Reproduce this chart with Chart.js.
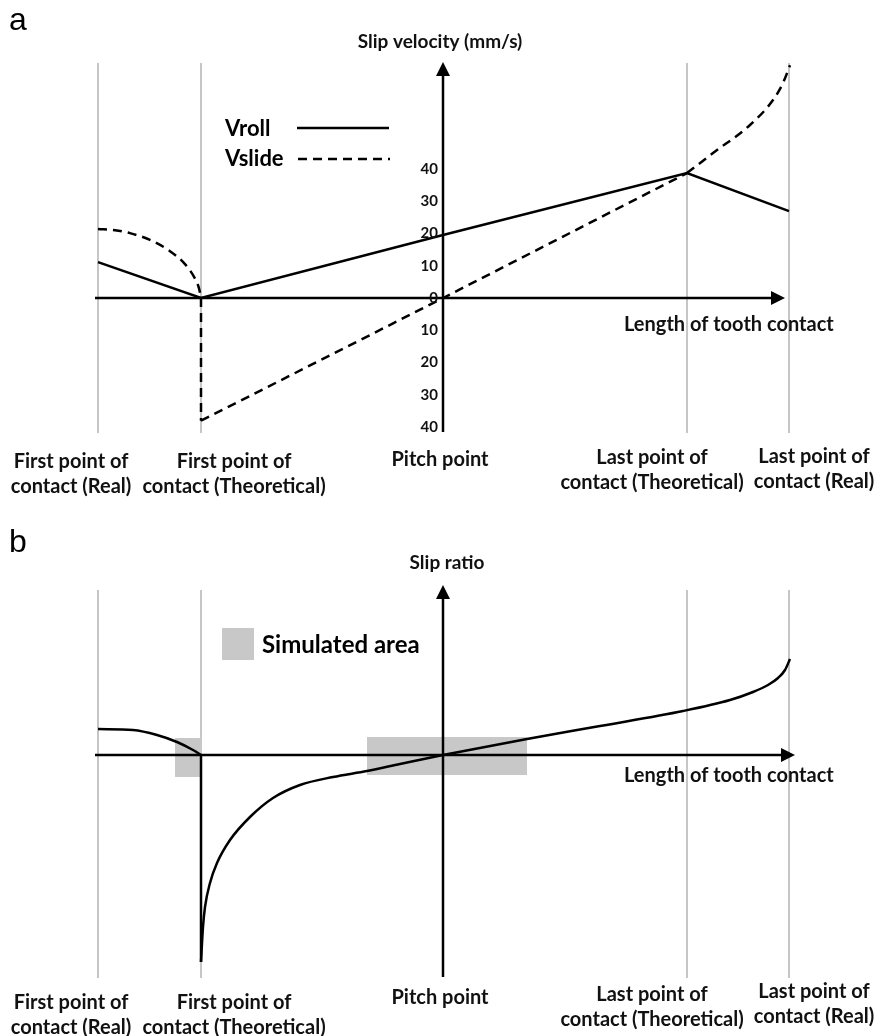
<!DOCTYPE html>
<html>
<head>
<meta charset="utf-8">
<script src="https://cdn.jsdelivr.net/npm/chart.js@4.4.0/dist/chart.umd.min.js"></script>
<style>
  body { margin: 0; background: #fff; }
  #wrap { position: relative; width: 883px; height: 1036px; }
  canvas { position: absolute; left: 0; }
  #chartA { top: 0; }
  #chartB { top: 520px; }
</style>
</head>
<body>
<div id="wrap">
  <canvas id="chartA" width="883" height="520"></canvas>
  <canvas id="chartB" width="883" height="516"></canvas>
</div>
<script>
// positions along the line of action, pitch point = 0
const contactX = [-3.45, -2.42, 0, 2.44, 3.46];
const guideX = [-3.45, -2.42, 2.44, 3.46];
const labelX = [-3.72, -2.09, -0.03, 2.09, 3.71];
const contactLabels = [
  ["First point of", "contact (Real)"],
  ["First point of", "contact (Theoretical)"],
  ["Pitch point"],
  ["Last point of", "contact (Theoretical)"],
  ["Last point of", "contact (Real)"]
];

// panel a : slip velocity (mm/s)
const velocityTicks = [40, 30, 20, 10, 0, -10, -20, -30, -40];
const vrollX = [-3.45, -2.42, 0, 2.44, 3.46];
const vrollY = [11.1, 0, 19.5, 38.7, 26.9];
const vslideLeftX = [-3.45, -3.28, -3.13, -2.93, -2.73, -2.58, -2.48, -2.44, -2.42];
const vslideLeftY = [21.4, 21.0, 20.1, 18.0, 14.5, 10.5, 6.0, 3.0, 0];
const vslideDropX = [-2.42, -2.42];
const vslideDropY = [0, -38];
const vslideLineX = [-2.42, 0, 2.44];
const vslideLineY = [-38, 0, 38.7];
const vslideRightX = [2.44, 2.70, 3.07, 3.30, 3.40, 3.47];
const vslideRightY = [38.7, 44.9, 53.6, 61.3, 66.6, 72.1];

// panel b : slip ratio
const ratioLeftX = [-3.45, -3.10, -2.86, -2.66, -2.50, -2.42];
const ratioLeftY = [0.26, 0.25, 0.20, 0.13, 0.05, 0];
const ratioDropX = [-2.42, -2.42];
const ratioDropY = [0, -2.07];
const ratioRightX = [-2.42, -2.40, -2.38, -2.33, -2.26, -2.13, -1.93, -1.70, -1.43, -1.10, -0.76, -0.43, 0, 0.84, 1.57, 2.40, 2.87, 3.10, 3.25, 3.35, 3.42, 3.47];
const ratioRightY = [-2.07, -1.72, -1.52, -1.28, -1.08, -0.85, -0.62, -0.43, -0.30, -0.22, -0.16, -0.09, 0, 0.16, 0.29, 0.44, 0.55, 0.63, 0.70, 0.77, 0.85, 0.96];
const simAreaX = [[-2.68, -2.41], [-0.76, 0.84]];
const simAreaTop = [0.17, 0.18];
const simAreaBottom = [-0.22, -0.20];

const pts = (xs, ys) => xs.map((x, i) => ({ x: x, y: ys[i] }));
const FONT = "Lato, 'Open Sans', sans-serif";

function curve(xs, ys, dashed, smooth) {
  return {
    data: pts(xs, ys),
    borderColor: "#000",
    borderWidth: 2.5,
    borderDash: dashed ? [9, 6] : [],
    pointRadius: 0,
    tension: 0,
    cubicInterpolationMode: smooth ? "monotone" : "default",
    fill: false,
    order: 0
  };
}

function guides(range) {
  return guideX.map(x => ({
    data: [{ x: x, y: range[0] }, { x: x, y: range[1] }],
    borderColor: "#c6c6c6",
    borderWidth: 2,
    pointRadius: 0,
    fill: false,
    order: 5
  }));
}

function simAreas() {
  const out = [];
  simAreaX.forEach((xr, i) => {
    out.push({
      data: [{ x: xr[0], y: simAreaTop[i] }, { x: xr[1], y: simAreaTop[i] }],
      borderColor: "rgba(0,0,0,0)",
      borderWidth: 1,
      backgroundColor: "#c8c8c8",
      pointRadius: 0,
      fill: "+1",
      order: 4
    });
    out.push({
      data: [{ x: xr[0], y: simAreaBottom[i] }, { x: xr[1], y: simAreaBottom[i] }],
      borderColor: "rgba(0,0,0,0)",
      borderWidth: 1,
      pointRadius: 0,
      fill: false,
      order: 4
    });
  });
  return out;
}

function arrow(ctx, x, y, dir) {
  ctx.beginPath();
  if (dir === "right") {
    ctx.moveTo(x, y); ctx.lineTo(x - 14, y - 7); ctx.lineTo(x - 14, y + 7);
  } else {
    ctx.moveTo(x, y); ctx.lineTo(x - 7, y + 14); ctx.lineTo(x + 7, y + 14);
  }
  ctx.closePath();
  ctx.fill();
}

const sketchAxes = {
  id: "sketchAxes",
  afterDatasetsDraw(chart, args, o) {
    const ctx = chart.ctx, xs = chart.scales.x, ys = chart.scales.y;
    const x0 = xs.getPixelForValue(0), y0 = ys.getPixelForValue(0);
    ctx.save();
    ctx.strokeStyle = "#000";
    ctx.fillStyle = "#000";
    ctx.lineWidth = 2.5;

    // horizontal axis
    const xa = xs.getPixelForValue(o.xAxis[0]), xb = xs.getPixelForValue(o.xAxis[1]);
    ctx.beginPath(); ctx.moveTo(xa, y0); ctx.lineTo(xb - 10, y0); ctx.stroke();
    arrow(ctx, xb, y0, "right");
    // vertical axis
    const ya = ys.getPixelForValue(o.yAxis[0]), yb = ys.getPixelForValue(o.yAxis[1]);
    ctx.beginPath(); ctx.moveTo(x0, ya); ctx.lineTo(x0, yb + 10); ctx.stroke();
    arrow(ctx, x0, yb, "up");

    ctx.fillStyle = "#111";
    // tick labels
    ctx.font = "bold 15px " + FONT;
    ctx.textAlign = "right";
    ctx.textBaseline = "middle";
    (o.ticks || []).forEach(v => ctx.fillText(String(Math.abs(v)), x0 - 5, ys.getPixelForValue(v)));

    // axis titles
    ctx.font = "bold 19px " + FONT;
    ctx.textAlign = "center";
    ctx.fillText(o.yTitle, x0 + o.yTitleDx, o.yTitleY);
    ctx.font = "bold 20px " + FONT;
    ctx.textAlign = "left";
    ctx.fillText(o.xTitle, 624, y0 + o.xTitleGap);

    // contact point labels
    ctx.textAlign = "center";
    contactLabels.forEach((lines, i) => {
      lines.forEach((t, j) => ctx.fillText(t, xs.getPixelForValue(labelX[i]), o.labelY[i] + j * 25));
    });

    // panel letter
    ctx.font = "32px 'Liberation Sans', Arial, sans-serif";
    ctx.textAlign = "left";
    ctx.textBaseline = "alphabetic";
    ctx.fillStyle = "#000";
    ctx.fillText(o.letter, 9, o.letterY);

    // legend
    if (o.legend === "lines") {
      ctx.font = "bold 22px " + FONT;
      ctx.textBaseline = "middle";
      ctx.fillText("Vroll", 225, 129);
      ctx.fillText("Vslide", 225, 159);
      ctx.lineWidth = 2.5;
      ctx.beginPath(); ctx.moveTo(297, 128); ctx.lineTo(389, 128); ctx.stroke();
      ctx.setLineDash([9, 6]);
      ctx.beginPath(); ctx.moveTo(298, 159); ctx.lineTo(390, 159); ctx.stroke();
      ctx.setLineDash([]);
    } else if (o.legend === "area") {
      ctx.fillStyle = "#c8c8c8";
      ctx.fillRect(222, 108, 32, 32);
      ctx.fillStyle = "#000";
      ctx.font = "bold 24px " + FONT;
      ctx.textBaseline = "middle";
      ctx.fillText("Simulated area", 262, 125);
    }
    ctx.restore();
  }
};

function baseOptions(yMin, yMax, padBottom, padTop, axisOpts) {
  return {
    responsive: false,
    animation: false,
    events: [],
    layout: { padding: { left: 90, right: 83, top: padTop, bottom: padBottom } },
    scales: {
      x: { type: "linear", min: -3.53, max: 3.57, display: false },
      y: { type: "linear", min: yMin, max: yMax, display: false }
    },
    plugins: {
      legend: { display: false },
      tooltip: { enabled: false },
      sketchAxes: axisOpts
    }
  };
}

new Chart(document.getElementById("chartA"), {
  type: "line",
  data: {
    datasets: [
      curve(vrollX, vrollY, false, false),
      curve(vslideLeftX, vslideLeftY, true, true),
      curve(vslideDropX, vslideDropY, true, false),
      curve(vslideLineX, vslideLineY, true, false),
      curve(vslideRightX, vslideRightY, true, true)
    ].concat(guides([-41.8, 72.8]))
  },
  options: baseOptions(-41.8, 73.1, 87, 62, {
    xAxis: [-3.48, 3.42],
    yAxis: [-41.5, 73.1],
    ticks: velocityTicks,
    yTitle: "Slip velocity (mm/s)",
    yTitleDx: -3,
    yTitleY: 42,
    xTitle: "Length of tooth contact",
    xTitleGap: 27,
    labelY: [462, 462, 460, 458, 457],
    letter: "a",
    letterY: 30,
    legend: "lines"
  }),
  plugins: [sketchAxes]
});

new Chart(document.getElementById("chartB"), {
  type: "line",
  data: {
    datasets: [
      curve(ratioLeftX, ratioLeftY, false, true),
      curve(ratioDropX, ratioDropY, false, false),
      curve(ratioRightX, ratioRightY, false, true)
    ].concat(simAreas(), guides([-2.23, 1.65]))
  },
  options: baseOptions(-2.25, 1.7, 56, 65, {
    xAxis: [-3.48, 3.52],
    yAxis: [-2.22, 1.7],
    ticks: [],
    yTitle: "Slip ratio",
    yTitleDx: 4,
    yTitleY: 43,
    xTitle: "Length of tooth contact",
    xTitleGap: 21,
    labelY: [483, 483, 478, 475, 472],
    letter: "b",
    letterY: 32,
    legend: "area"
  }),
  plugins: [sketchAxes]
});
</script>
</body>
</html>
